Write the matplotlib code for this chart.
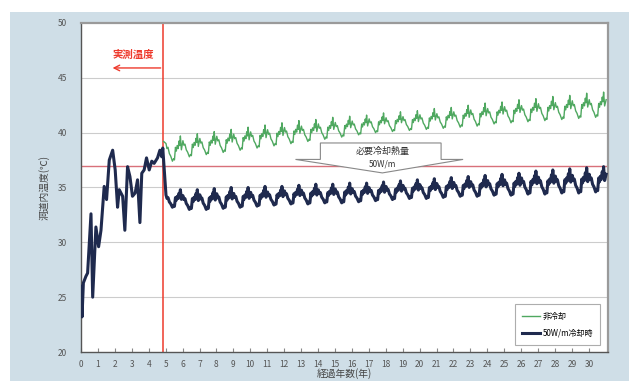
import numpy as np
import matplotlib.pyplot as plt
from matplotlib.patches import Rectangle, Polygon

plt.rcParams['font.family'] = ['Noto Sans CJK JP', 'DejaVu Sans']

# measured tunnel temperature, years 0 - 4.9
meas_year = [0.0, 0.06, 0.14, 0.29, 0.39, 0.59, 0.69, 0.88, 1.04, 1.18, 1.37, 1.51, 1.67,
             1.87, 2.02, 2.16, 2.26, 2.46, 2.59, 2.75, 2.89, 3.04, 3.20, 3.34, 3.48,
             3.59, 3.73, 3.87, 4.03, 4.18, 4.32, 4.52, 4.66, 4.77, 4.83, 4.88]
meas_temp = [26.0, 23.2, 26.3, 26.9, 27.2, 32.6, 25.0, 31.4, 29.6, 31.1, 35.1, 33.9, 37.5,
             38.4, 36.6, 33.2, 34.8, 34.2, 31.1, 36.9, 36.0, 34.2, 34.5, 35.7, 31.8,
             36.3, 36.6, 37.7, 36.6, 37.4, 37.2, 37.7, 38.4, 37.8, 38.6, 37.5]

# yearly cycles from year 5 to year 30 (peak / trough of each year)
cycle_years = list(range(5, 31))
green_peak = [39.7, 39.9, 40.1, 40.3, 40.5, 40.7, 40.9, 41.1, 41.2, 41.4, 41.5, 41.6, 41.8,
              41.9, 42.0, 42.2, 42.3, 42.5, 42.7, 42.8, 43.0, 43.1, 43.3, 43.4, 43.6, 43.7]
green_trough = [37.4, 37.8, 38.0, 38.2, 38.4, 38.6, 38.8, 39.0, 39.2, 39.4, 39.6, 39.8, 40.0,
                40.1, 40.2, 40.3, 40.4, 40.5, 40.6, 40.8, 40.9, 41.0, 41.1, 41.2, 41.3, 41.4]
navy_peak = [34.8, 34.8, 34.9, 35.0, 35.0, 35.1, 35.1, 35.2, 35.3, 35.3, 35.4, 35.4, 35.5,
             35.6, 35.7, 35.8, 35.9, 36.0, 36.1, 36.2, 36.3, 36.5, 36.6, 36.7, 36.8, 36.9]
navy_trough = [33.2, 33.0, 33.0, 33.1, 33.2, 33.3, 33.4, 33.5, 33.5, 33.6, 33.6, 33.7, 33.8,
               33.9, 34.0, 34.0, 34.1, 34.2, 34.2, 34.3, 34.3, 34.4, 34.4, 34.5, 34.5, 34.6]

# shape of one year: (time within the year, height between trough and peak)
cycle_phase = [0.02, 0.08, 0.14, 0.22, 0.30, 0.40, 0.47, 0.52, 0.58, 0.63, 0.68, 0.74,
               0.79, 0.83, 0.87, 0.93]
cycle_level = [0.70, 0.50, 0.55, 0.30, 0.20, 0.00, 0.10, 0.05, 0.55, 0.40, 0.62, 0.50,
               0.80, 0.62, 1.00, 0.45]

green_start = [(4.88, 39.2)]


def build_cycles(peaks, troughs):
    xs, ys = [], []
    for yr, p, t in zip(cycle_years, peaks, troughs):
        for ph, lv in zip(cycle_phase, cycle_level):
            xs.append(yr + ph)
            ys.append(t + lv * (p - t))
    xs.append(cycle_years[-1] + 1 + cycle_phase[0])
    ys.append(troughs[-1] + cycle_level[0] * (peaks[-1] - troughs[-1]))
    return xs, ys


gx, gy = build_cycles(green_peak, green_trough)
gx = [green_start[0][0]] + gx
gy = [green_start[0][1]] + gy
nx, ny = build_cycles(navy_peak, navy_trough)
nx = meas_year + nx
ny = meas_temp + ny

fig = plt.figure(figsize=(6.29, 3.81), dpi=100)
fig.patches.append(Rectangle((10 / 629, 0), 1, 1 - 12 / 381, transform=fig.transFigure,
                             facecolor='#cfdee7', edgecolor='none', zorder=-10))
ax = fig.add_axes([81 / 629, 1 - 352 / 381, 526.5 / 629, 329 / 381])
ax.set_facecolor('white')

ax.set_xlim(0, 31.1)
ax.set_ylim(20, 50)
for v in [25, 30, 35, 40, 45]:
    ax.axhline(v, color='#cccccc', lw=0.8, zorder=1)

ax.axhline(37, color='#d8707a', lw=1.0, zorder=2)
ax.axvline(4.87, color='#ee3a2c', lw=1.1, zorder=2)

ax.plot(gx, gy, color='#4fa860', lw=1.0, zorder=3, label='非冷却')
ax.plot(nx, ny, color='#1f2a4e', lw=2.2, zorder=4, label='50W/m冷却時')

# block arrow for required cooling
arrow = Polygon([(14.14, 39.06), (21.27, 39.06), (21.27, 37.56), (22.57, 37.56),
                 (17.8, 36.33), (12.67, 37.56), (14.14, 37.56)],
                closed=True, facecolor='white', edgecolor='#888888', lw=0.8, zorder=5)
ax.add_patch(arrow)
ax.text(17.8, 38.3, '必要冷却熱量', ha='center', va='center', fontsize=6.5,
        color='#333333', zorder=6)
ax.text(17.8, 37.1, '50W/m', ha='center', va='center', fontsize=6,
        color='#333333', zorder=6)

ax.text(3.1, 47.1, '実測温度', ha='center', va='center', fontsize=7.5,
        color='#ee3a2c', fontweight='bold')
ax.annotate('', xy=(1.7, 45.9), xytext=(4.87, 45.9),
            arrowprops=dict(arrowstyle='->', color='#ee3a2c', lw=1.0))

ax.set_xticks(range(0, 31))
ax.set_yticks(range(20, 51, 5))
ax.tick_params(axis='x', direction='in', length=3, color='#888888', labelsize=6,
               labelcolor='#555555', pad=6)
ax.tick_params(axis='y', length=0, labelsize=6, labelcolor='#555555', pad=10)

for s in ['left', 'bottom']:
    ax.spines[s].set_color('#555555')
    ax.spines[s].set_linewidth(1.0)
for s in ['top', 'right']:
    ax.spines[s].set_color('#9a9a9a')
    ax.spines[s].set_linewidth(1.6)

ax.set_xlabel('経過年数(年)', fontsize=7, color='#444444', labelpad=-1)
ax.set_ylabel('洞道内温度(℃)', fontsize=7, color='#444444', labelpad=6)

leg = ax.legend(loc='lower right', fontsize=5.8, frameon=True, fancybox=False,
                borderaxespad=0.9, handlelength=2.2, labelspacing=1.0,
                borderpad=0.9, handletextpad=0.3)
leg.get_frame().set_edgecolor('#999999')
leg.get_frame().set_linewidth(0.8)

fig.savefig('out.png', dpi=100)
